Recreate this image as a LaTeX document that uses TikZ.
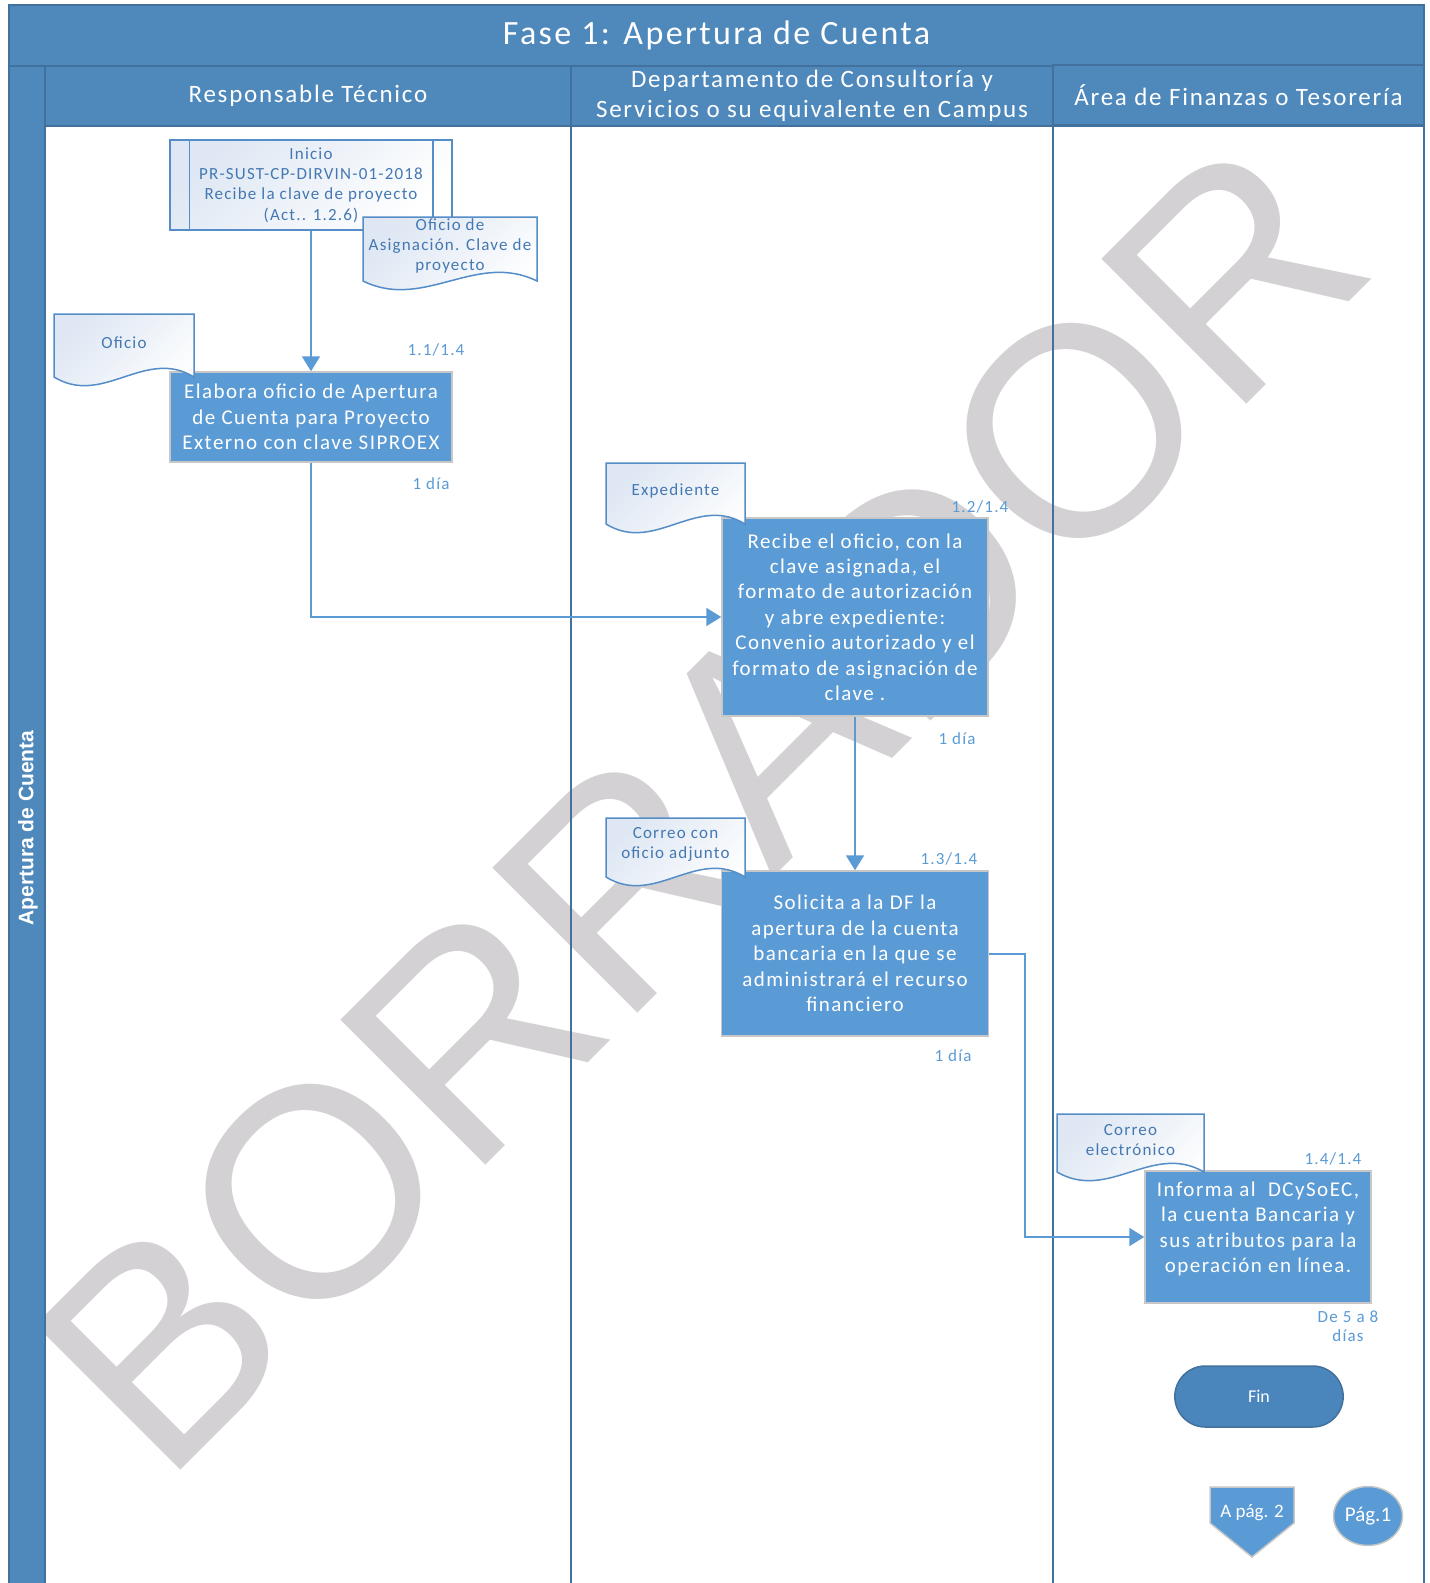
\documentclass[tikz,border=0pt]{standalone}
\usepackage{fontspec}
\setmainfont{Carlito}
\newfontfamily\spacedfont{Carlito}[LetterSpace=7]
\newfontfamily\arialfont{Liberation Sans}
\usepackage{tikz}
\usetikzlibrary{arrows.meta}
\usetikzlibrary{shapes.geometric,shapes.misc}
\usepackage{xcolor}
\definecolor{bandblue}{RGB}{79,137,188}
\definecolor{bandline}{RGB}{65,113,156}
\definecolor{procblue}{RGB}{91,155,213}
\definecolor{finblue}{RGB}{74,134,187}
\definecolor{docline}{RGB}{84,141,200}
\definecolor{doctxt}{RGB}{68,120,178}
\definecolor{docshade}{RGB}{222,231,243}
\definecolor{stamp}{RGB}{211,209,211}

% document shape with wavy bottom: name, left, top, right, wave line, text
\newcommand{\docshape}[6]{%
  \path[docbox] (#2,#5) -- (#2,#3) -- (#4,#3) -- (#4,#5)
    .. controls ({#4-0.35*(#4-#2)},{#5-30}) and ({#2+0.35*(#4-#2)},{#5+30}) .. (#2,#5) -- cycle;
  \node[doctext] (#1) at ({(#2+#4)/2},{(#3+#5)/2-3}) {#6};}

\begin{document}
\begin{tikzpicture}[x=1pt,y=-1pt]
  \tikzset{band/.style = {shape=rectangle,draw=bandline,line width=1.5pt,fill=bandblue,text=white,inner sep=0pt,align=center,font=\spacedfont\fontsize{25}{30}\selectfont}}
  \tikzset{lane/.style = {shape=rectangle,draw=bandline,line width=2pt,inner sep=0pt}}
  \tikzset{proc/.style = {shape=rectangle,draw=black!22,line width=1.5pt,fill=procblue,text=white,align=center,inner sep=2pt,font=\spacedfont\fontsize{21}{25.4}\selectfont}}
  \tikzset{subproc/.style = {shape=rectangle,draw=docline,line width=1.5pt,top color=docshade,bottom color=white,shading angle=45,text=doctxt,align=center,inner sep=2pt,minimum width=282,minimum height=90,font=\spacedfont\fontsize{17}{20.4}\selectfont}}
  \tikzset{docbox/.style = {draw=docline,line width=1.5pt,top color=docshade,bottom color=white,shading angle=45}}
  \tikzset{doctext/.style = {text=doctxt,align=center,inner sep=0pt,font=\spacedfont\fontsize{17}{20.4}\selectfont}}
  \tikzset{steplbl/.style = {text=procblue,align=center,inner sep=0pt,font=\spacedfont\fontsize{17}{19.5}\selectfont}}
  \tikzset{flow/.style = {draw=procblue,line width=2pt}}
  \tikzset{%
  flowtip/.tip={Triangle[width=18pt,length=15pt]},
}

  \useasboundingbox (0,0) rectangle (1430,1583);
  \fill[white] (0,0) rectangle (1430,1583);

  % watermark
  \node[rotate=45,text=stamp,inner sep=0pt,font=\arialfont\fontsize{298}{298}\selectfont] (borrador) at (700,806) {BORRADOR};

  % swimlane frame
  \node[band,minimum width=1415,minimum height=61,font=\spacedfont\fontsize{34}{40}\selectfont] (title) at (716.5,35.5) {Fase 1: Apertura de Cuenta};
  \node[band,minimum width=36,minimum height=1534] (fasebar) at (27,833) {};
  \node[rotate=90,text=white,font=\arialfont\bfseries\fontsize{21}{24}\selectfont] (fasename) at (28,828) {Apertura de Cuenta};

  \node[lane,minimum width=526,minimum height=1474] (lanetec) at (308,863) {};
  \node[lane,minimum width=482,minimum height=1474] (lanedep) at (812,863) {};
  \node[lane,minimum width=371,minimum height=1474] (lanefin) at (1238.5,863) {};

  \node[band,minimum width=526,minimum height=60] (hdrtec) at (308,96) {Responsable Técnico};
  \node[band,minimum width=482,minimum height=60] (hdrdep) at (812,96) {Departamento de Consultoría y\\Servicios o su equivalente en Campus};
  \node[band,minimum width=371,minimum height=60] (hdrfin) at (1238.5,95) {Área de Finanzas o Tesorería};

  % activities
  \node[subproc] (inicio) at (311,185) {Inicio\\PR-SUST-CP-DIRVIN-01-2018\\Recibe la clave de proyecto\\(Act.. 1.2.6)};
  \draw[docline,line width=1.5pt] ([xshift=20pt]inicio.north west) -- ([xshift=20pt]inicio.south west);
  \draw[docline,line width=1.5pt] ([xshift=-20pt]inicio.north east) -- ([xshift=-20pt]inicio.south east);

  \node[proc,minimum width=282,minimum height=90] (elabora) at (311,417) {Elabora oficio de Apertura\\de Cuenta para Proyecto\\Externo con clave SIPROEX};
  \node[proc,minimum width=266,minimum height=198] (recibe) at (855,617) {Recibe el oficio, con la\\clave asignada, el\\formato de autorización\\y abre expediente:\\Convenio autorizado y el\\formato de asignación de\\clave .};
  \node[proc,minimum width=267,minimum height=165] (solicita) at (855,953.5) {Solicita a la DF la\\apertura de la cuenta\\bancaria en la que se\\administrará el recurso\\financiero};
  \node[proc,minimum width=226,minimum height=132,text depth=20pt] (informa) at (1258,1237) {Informa al~ DCySoEC,\\la cuenta Bancaria y\\sus atributos para la\\operación en línea.};

  % documents
  \docshape{docasig}{363}{217}{537}{281}{Oficio de\\Asignación. Clave de\\proyecto}
  \docshape{docofi}{54}{314}{194}{377}{Oficio}
  \docshape{docexp}{606}{463}{745}{524}{Expediente}
  \docshape{doccor}{606}{818}{745}{877}{Correo con\\oficio adjunto}
  \docshape{docele}{1057}{1114}{1204}{1172}{Correo\\electrónico}

  % step numbers and times
  \node[steplbl] (num11) at (436,350) {1.1/1.4};
  \node[steplbl] (dia11) at (431,484) {1 día};
  \node[steplbl] (num12) at (980,507) {1.2/1.4};
  \node[steplbl] (dia12) at (957,739) {1 día};
  \node[steplbl] (num13) at (949,859) {1.3/1.4};
  \node[steplbl] (dia13) at (953,1056) {1 día};
  \node[steplbl] (num14) at (1333,1159) {1.4/1.4};
  \node[steplbl] (dia14) at (1348,1326) {De 5 a 8\\días};

  % end and page connectors
  \node[rounded rectangle,draw=bandline,line width=1.5pt,fill=finblue,text=white,minimum width=175,minimum height=61,font=\fontsize{18}{21}\selectfont] (fin) at (1259,1396.5) {Fin};
  \path[draw=black!22,line width=1.5pt,fill=procblue] (1210,1487) -- (1294,1487) -- (1294,1523) -- (1252,1557) -- (1210,1523) -- cycle;
  \node[text=white,inner sep=0pt,font=\fontsize{19}{22}\selectfont] (apag) at (1252,1513) {A pág. 2};
  \node[ellipse,draw=black!22,line width=1.5pt,fill=procblue,text=white,inner sep=0pt,minimum width=69,minimum height=59,font=\fontsize{21}{24}\selectfont] (pag1) at (1368,1516) {Pág.1};

  % connectors
  \foreach \from/\to in {inicio/elabora, recibe/solicita}
    \path (\from) edge[flow,-flowtip] (\to);
  \draw[flow,-flowtip] (elabora.south) |- (recibe.west);
  \draw[flow,-flowtip] (solicita.east) -- ++(36,0) |- (informa.west);

\end{tikzpicture}
\end{document}
